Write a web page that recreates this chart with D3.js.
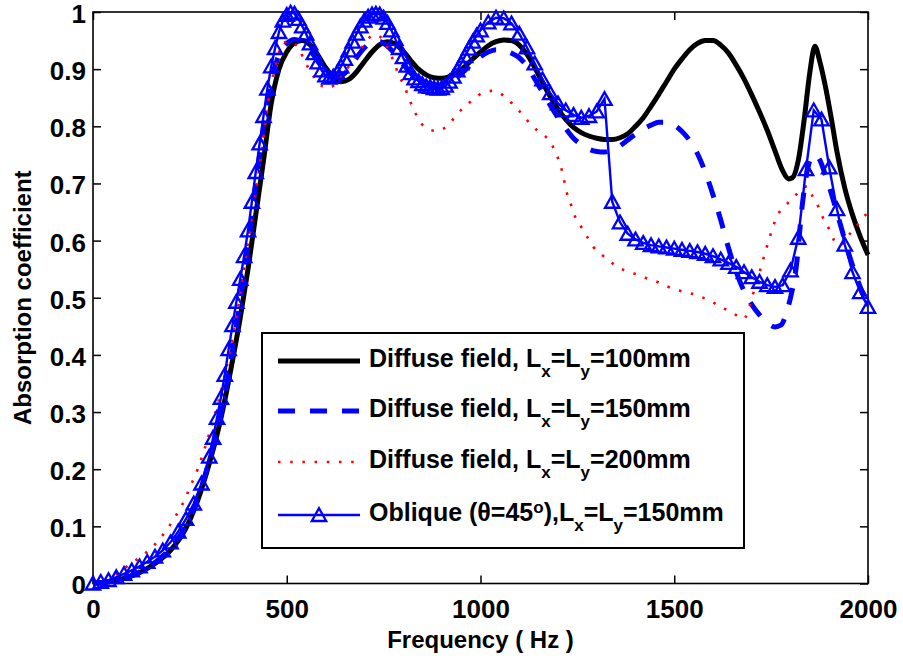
<!DOCTYPE html>
<html><head><meta charset="utf-8">
<script src="https://cdn.jsdelivr.net/npm/d3@7"></script>
<style>
body{margin:0;background:#fff;}
svg text{font-family:"Liberation Sans",Arial,Helvetica,sans-serif;font-weight:bold;fill:#000;}
</style></head><body>
<svg id="chart" width="903" height="661"></svg>
<script>
// ---------------- data ----------------
const xTicks = [0, 500, 1000, 1500, 2000];
const xTickLabels = ["0", "500", "1000", "1500", "2000"];
const yTicks = [0, 0.1, 0.2, 0.3, 0.4, 0.5, 0.6, 0.7, 0.8, 0.9, 1];
const yTickLabels = ["0", "0.1", "0.2", "0.3", "0.4", "0.5", "0.6", "0.7", "0.8", "0.9", "1"];

const seriesNames = [
  "Diffuse field, L_x=L_y=100mm",
  "Diffuse field, L_x=L_y=150mm",
  "Diffuse field, L_x=L_y=200mm",
  "Oblique (θ=45^o),L_x=L_y=150mm"
];

// Diffuse field, Lx=Ly=100mm (black solid)
const freq100 = [0,40,80,120,160,200,240,270,300,320,340,360,380,400,420,440,460,480,500,520,540,560,580,600,620,640,660,680,700,720,740,760,780,800,820,840,860,880,900,920,940,960,980,1000,1020,1040,1060,1080,1100,1120,1140,1160,1180,1200,1220,1240,1260,1280,1300,1320,1340,1360,1380,1400,1420,1440,1460,1480,1500,1520,1540,1560,1580,1600,1620,1640,1660,1680,1700,1720,1740,1760,1780,1795,1805,1820,1835,1850,1863,1875,1890,1905,1920,1940,1960,1980,2000];
const abs100 = [0,0.003,0.009,0.019,0.035,0.058,0.097,0.145,0.21,0.26,0.32,0.39,0.465,0.55,0.645,0.74,0.84,0.9,0.93,0.946,0.95,0.943,0.925,0.903,0.886,0.878,0.882,0.895,0.913,0.93,0.943,0.948,0.944,0.932,0.915,0.9,0.89,0.885,0.884,0.887,0.894,0.905,0.918,0.93,0.941,0.948,0.951,0.95,0.942,0.926,0.903,0.877,0.852,0.83,0.812,0.798,0.789,0.783,0.779,0.777,0.777,0.78,0.787,0.8,0.815,0.835,0.856,0.878,0.9,0.918,0.934,0.945,0.95,0.95,0.942,0.928,0.907,0.883,0.855,0.825,0.793,0.757,0.722,0.708,0.71,0.74,0.81,0.895,0.94,0.915,0.87,0.815,0.755,0.692,0.645,0.607,0.575];

// Diffuse field, Lx=Ly=150mm (blue dashed)
const freq150 = [0,50,100,150,200,250,300,340,370,400,430,460,480,500,520,540,560,580,600,620,640,660,680,700,720,740,760,780,800,820,840,860,880,900,920,940,960,980,1000,1020,1040,1060,1080,1100,1120,1140,1160,1180,1200,1220,1240,1260,1280,1300,1320,1340,1360,1380,1400,1420,1440,1460,1480,1500,1520,1540,1560,1580,1600,1620,1640,1660,1680,1700,1720,1740,1760,1775,1790,1800,1815,1830,1845,1860,1872,1890,1910,1930,1950,1970,1985,2000];
const abs150 = [0,0.004,0.014,0.032,0.062,0.115,0.215,0.33,0.45,0.59,0.75,0.88,0.925,0.945,0.952,0.947,0.933,0.914,0.897,0.888,0.889,0.9,0.92,0.937,0.947,0.948,0.94,0.926,0.909,0.893,0.881,0.874,0.871,0.872,0.877,0.886,0.898,0.911,0.922,0.93,0.934,0.933,0.928,0.92,0.905,0.883,0.86,0.837,0.815,0.796,0.779,0.768,0.76,0.756,0.755,0.759,0.766,0.776,0.786,0.795,0.802,0.807,0.807,0.802,0.791,0.775,0.752,0.72,0.68,0.636,0.587,0.545,0.512,0.488,0.47,0.456,0.449,0.452,0.475,0.5,0.555,0.66,0.728,0.75,0.745,0.715,0.672,0.625,0.578,0.537,0.51,0.488];

// Diffuse field, Lx=Ly=200mm (red dotted)
const freq200 = [0,25,50,78,100,126,150,171,190,207,222,237,250,270,290,310,330,350,370,390,410,430,445,455,465,478,491,510,534,547,564,581,607,633,655,681,705,723,745,766,779,788,803,814,826,839,859,887,913,934,955,980,1004,1032,1061,1083,1104,1125,1146,1172,1187,1200,1210,1223,1235,1244,1259,1275,1291,1313,1339,1365,1394,1425,1455,1481,1510,1541,1571,1597,1626,1652,1678,1690,1700,1717,1735,1752,1765,1781,1803,1825,1843,1858,1872,1885,1900,1912,1928,1948,1969,1987,2000];
const abs200 = [0,0.005,0.012,0.025,0.036,0.048,0.062,0.077,0.094,0.111,0.128,0.147,0.168,0.2,0.24,0.285,0.335,0.395,0.465,0.55,0.64,0.73,0.805,0.855,0.89,0.925,0.946,0.949,0.932,0.913,0.893,0.876,0.867,0.879,0.9,0.925,0.948,0.96,0.955,0.928,0.909,0.89,0.872,0.851,0.832,0.814,0.797,0.792,0.8,0.816,0.832,0.846,0.858,0.862,0.853,0.839,0.824,0.807,0.793,0.779,0.764,0.744,0.723,0.683,0.66,0.642,0.625,0.607,0.589,0.575,0.561,0.55,0.543,0.535,0.528,0.52,0.513,0.508,0.501,0.493,0.482,0.473,0.463,0.475,0.499,0.537,0.58,0.618,0.643,0.657,0.672,0.687,0.695,0.676,0.659,0.638,0.62,0.601,0.592,0.608,0.624,0.641,0.648];

// Oblique (theta=45 deg), Lx=Ly=150mm (blue solid with triangles)
const freqObl = [0,20,40,60,80,100,120,140,160,180,200,220,240,260,280,300,310,320,330,340,350,360,370,380,390,400,410,420,430,440,450,460,470,480,490,500,510,520,530,540,550,560,570,580,590,600,610,620,630,640,650,660,670,680,690,700,710,720,730,740,750,760,770,780,790,800,810,820,830,840,850,860,870,880,890,900,910,920,930,940,950,960,970,980,990,1000,1020,1040,1060,1080,1100,1120,1140,1160,1180,1200,1220,1240,1260,1280,1300,1320,1340,1360,1380,1400,1420,1440,1460,1480,1500,1520,1540,1560,1580,1600,1620,1640,1660,1680,1700,1720,1740,1760,1780,1800,1820,1840,1860,1880,1900,1920,1940,1960,1980,2000];
const absObl = [0,0.003,0.006,0.011,0.017,0.023,0.03,0.038,0.047,0.058,0.072,0.091,0.113,0.14,0.175,0.222,0.255,0.29,0.325,0.365,0.41,0.452,0.493,0.533,0.573,0.618,0.668,0.72,0.77,0.818,0.866,0.905,0.937,0.965,0.985,0.995,0.999,0.997,0.988,0.975,0.962,0.945,0.928,0.912,0.898,0.889,0.885,0.887,0.894,0.905,0.918,0.933,0.948,0.962,0.975,0.985,0.992,0.996,0.997,0.996,0.99,0.981,0.968,0.953,0.937,0.921,0.906,0.893,0.884,0.879,0.874,0.87,0.869,0.867,0.866,0.867,0.871,0.878,0.887,0.898,0.91,0.923,0.936,0.948,0.959,0.968,0.982,0.99,0.989,0.98,0.962,0.938,0.91,0.882,0.858,0.84,0.828,0.82,0.815,0.818,0.826,0.848,0.668,0.632,0.612,0.602,0.596,0.592,0.59,0.588,0.586,0.584,0.582,0.58,0.577,0.573,0.567,0.561,0.554,0.545,0.536,0.528,0.522,0.519,0.522,0.548,0.605,0.725,0.828,0.812,0.728,0.655,0.593,0.545,0.51,0.484];

// ---------------- drawing ----------------
const plot = {left: 93, right: 868, top: 12, bottom: 583.5};
const svg = d3.select("#chart");
const x = d3.scaleLinear().domain([0, 2000]).range([plot.left, plot.right]);
const y = d3.scaleLinear().domain([0, 1]).range([plot.bottom, plot.top]);

const zip = (f, a) => f.map((v, i) => [v, a[i]]);

// axes (ticks pointing inward on all 4 sides)
const axB = svg.append("g").attr("transform", `translate(0,${plot.bottom})`)
  .call(d3.axisBottom(x).tickValues(xTicks).tickFormat((d, i) => xTickLabels[i])
    .tickSizeInner(-8).tickSizeOuter(0).tickPadding(16));
const axL = svg.append("g").attr("transform", `translate(${plot.left},0)`)
  .call(d3.axisLeft(y).tickValues(yTicks).tickFormat((d, i) => yTickLabels[i])
    .tickSizeInner(-8).tickSizeOuter(0).tickPadding(7));
const axT = svg.append("g").attr("transform", `translate(0,${plot.top})`)
  .call(d3.axisTop(x).tickValues(xTicks).tickFormat("").tickSizeInner(-8).tickSizeOuter(0));
const axR = svg.append("g").attr("transform", `translate(${plot.right},0)`)
  .call(d3.axisRight(y).tickValues(yTicks).tickFormat("").tickSizeInner(-8).tickSizeOuter(0));
[axB, axL, axT, axR].forEach(g => {
  g.select(".domain").remove();
  g.selectAll(".tick line").attr("stroke", "#000").attr("stroke-width", 1.5);
  g.selectAll(".tick text").attr("font-size", 26).attr("font-weight", "bold")
    .attr("font-family", '"Liberation Sans",Arial,sans-serif').attr("fill", "#000");
});
axL.selectAll(".tick text").attr("dy", "0.4em");
svg.append("rect").attr("x", plot.left).attr("y", plot.top)
  .attr("width", plot.right - plot.left).attr("height", plot.bottom - plot.top)
  .attr("fill", "none").attr("stroke", "#000").attr("stroke-width", 1.6);

// axis titles
svg.append("text").attr("x", (plot.left + plot.right) / 2).attr("y", 648)
  .attr("text-anchor", "middle").attr("font-size", 24).text("Frequency ( Hz )");
svg.append("text").attr("transform", `translate(31,${(plot.top + plot.bottom) / 2}) rotate(-90)`)
  .attr("text-anchor", "middle").attr("font-size", 24).text("Absorption coefficient");

// lines
const smooth = d3.line().x(d => x(d[0])).y(d => y(d[1])).curve(d3.curveMonotoneX);
const straight = d3.line().x(d => x(d[0])).y(d => y(d[1]));

const styles = [
  {stroke: "#000000", width: 5, dash: null},
  {stroke: "#0000ff", width: 5, dash: "17,15"},
  {stroke: "#ff0000", width: 2.6, dash: "2.5,9.7"},
  {stroke: "#0000ff", width: 2.4, dash: null}
];

svg.append("path").datum(zip(freq100, abs100)).attr("d", smooth)
  .attr("fill", "none").attr("stroke", styles[0].stroke).attr("stroke-width", styles[0].width)
  .attr("stroke-linejoin", "round");
svg.append("path").datum(zip(freq150, abs150)).attr("d", smooth)
  .attr("fill", "none").attr("stroke", styles[1].stroke).attr("stroke-width", styles[1].width)
  .attr("stroke-dasharray", styles[1].dash);
svg.append("path").datum(zip(freq200, abs200)).attr("d", smooth)
  .attr("fill", "none").attr("stroke", styles[2].stroke).attr("stroke-width", styles[2].width)
  .attr("stroke-dasharray", styles[2].dash);
const obl = zip(freqObl, absObl);
svg.append("path").datum(obl).attr("d", straight)
  .attr("fill", "none").attr("stroke", styles[3].stroke).attr("stroke-width", styles[3].width);

const tri = "M0,-6.8L7.2,6L-7.2,6Z";
svg.append("g").selectAll("path").data(obl).join("path")
  .attr("d", tri).attr("transform", d => `translate(${x(d[0])},${y(d[1])})`)
  .attr("fill", "none").attr("stroke", "#0000ff").attr("stroke-width", 2.3)
  .attr("stroke-linejoin", "miter");

// legend
const lg = svg.append("g");
lg.append("rect").attr("x", 262).attr("y", 333).attr("width", 482).attr("height", 215)
  .attr("fill", "#fff").attr("stroke", "#000").attr("stroke-width", 2);
const rowY = [361, 411, 462, 515];
rowY.forEach((ry, i) => {
  const st = styles[i];
  const ln = lg.append("line").attr("x1", 278).attr("x2", 360).attr("y1", ry).attr("y2", ry)
    .attr("stroke", st.stroke).attr("stroke-width", st.width);
  if (st.dash) ln.attr("stroke-dasharray", st.dash);
  if (i === 3) {
    lg.append("path").attr("d", tri).attr("transform", `translate(319,${ry})`)
      .attr("fill", "none").attr("stroke", "#0000ff").attr("stroke-width", 2.3);
  }
  // rich text: _x subscript, ^o superscript
  const t = lg.append("text").attr("x", 369).attr("y", ry + 6).attr("font-size", 25);
  const parts = seriesNames[i].split(/(_[a-z]|\^[a-z])/).filter(s => s.length);
  let shift = 0;
  parts.forEach(p => {
    if (p[0] === "_" || p[0] === "^") {
      const off = p[0] === "_" ? 10 : -8;
      t.append("tspan").attr("dy", off - shift).attr("font-size", 17).text(p.slice(1));
      shift = off;
    } else {
      t.append("tspan").attr("dy", -shift).text(p);
      shift = 0;
    }
  });
});
</script>
</body></html>
